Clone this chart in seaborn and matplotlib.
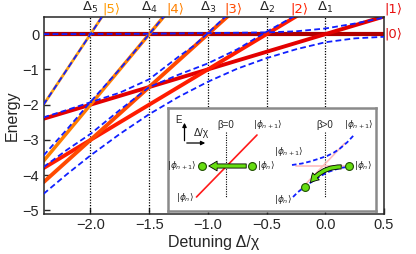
import seaborn as sns
import matplotlib.pyplot as plt
from matplotlib.patches import FancyArrowPatch

sns.set_style("ticks")
plt.rcParams['font.family'] = ['Liberation Sans', 'DejaVu Sans']
plt.rcParams['mathtext.fontset'] = 'dejavusans'

# bare levels |n>, end points read at the left / right edge
bare_x = [-2.4, 0.5]
bare_e0 = [0.0, 0.0]
bare_e1 = [-2.4, 0.5]
bare_e2 = [-3.8, 2.0]
bare_e3 = [-4.2, 4.5]
bare_e4 = [-3.6, 8.0]
bare_e5 = [-2.0, 12.5]
bare_colors = ['#b00000', '#e30000', '#ff1c00', '#ff4a00', '#ff7c00', '#ffa010']
bare_widths = [3.0, 2.8, 2.8, 2.8, 2.5, 2.0]

# dressed levels (blue dashed)
top_x = [-2.4, -1.5, -1.0, -0.75, -0.5, -0.25, 0.0, 0.25, 0.5]
top_y = [0.0, 0.01, 0.03, 0.04, 0.05, 0.08, 0.16, 0.30, 0.47]
d5_x = [-2.4, -1.9]
d5_y = [-2.0, 0.5]
d4_x = [-2.4, -2.2, -2.0, -1.75, -1.5, -1.375]
d4_y = [-3.44, -2.70, -1.92, -0.99, 0.0, 0.5]
d13_x = [-2.4, -2.2, -2.0, -1.75, -1.5, -1.25, -1.12, -1.0, -0.85]
d13_y = [-2.36, -2.15, -1.93, -1.66, -1.28, -0.64, -0.33, 0.03, 0.5]
mid_x = [-2.4, -2.2, -2.0, -1.75, -1.5, -1.25, -1.0, -0.75, -0.5, -0.27]
mid_y = [-3.77, -3.28, -2.83, -2.15, -1.5, -1.15, -0.83, -0.43, 0.07, 0.5]
low_x = [-2.4, -2.2, -2.0, -1.75, -1.5, -1.25, -1.0, -0.75, -0.5, -0.25, 0.0, 0.25, 0.5]
low_y = [-4.53, -3.97, -3.44, -2.83, -2.27, -1.78, -1.35, -0.98, -0.68, -0.43, -0.23, -0.12, -0.075]

resonances = [-2.0, -1.5, -1.0, -0.5, 0.0]
res_labels = [r'$\Delta_5$', r'$\Delta_4$', r'$\Delta_3$', r'$\Delta_2$', r'$\Delta_1$']
ket_x = [-1.82, -1.28, -0.78, -0.22, 0.58]
ket_labels = ['|5\u27e9', '|4\u27e9', '|3\u27e9', '|2\u27e9', '|1\u27e9']
ket_colors = ['#ff9a00', '#ff8000', '#ff4a00', '#ff2000', '#e81010']
ket_font = ['DejaVu Sans']

blue = '#1020ff'
dash = (0, (3.2, 1.8))

fig = plt.figure(figsize=(4.16, 2.54), dpi=100)
ax = fig.add_axes([0.1046, 0.1575, 0.8185, 0.7775])

for xr in resonances:
    ax.axvline(xr, color='k', ls=(0, (1, 1.2)), lw=0.9, zorder=1)

for ys, c, w in zip([bare_e0, bare_e1, bare_e2, bare_e3, bare_e4, bare_e5],
                    bare_colors, bare_widths):
    sns.lineplot(x=bare_x, y=ys, ax=ax, color=c, lw=w, estimator=None, zorder=2)

for xs, ys in [(top_x, top_y), (d5_x, d5_y), (d4_x, d4_y), (d13_x, d13_y),
               (mid_x, mid_y), (low_x, low_y)]:
    sns.lineplot(x=xs, y=ys, ax=ax, color=blue, lw=1.3, ls=dash,
                 estimator=None, zorder=3)

ax.set_xlim(-2.4, 0.5)
ax.set_ylim(-5.1, 0.5)
ax.set_xticks([-2.0, -1.5, -1.0, -0.5, 0.0, 0.5])
ax.set_xticklabels(['\u22122.0', '\u22121.5', '\u22121.0', '\u22120.5', '0.0', '0.5'])
ax.set_yticks([0, -1, -2, -3, -4, -5])
ax.set_yticklabels(['0', '\u22121', '\u22122', '\u22123', '\u22124', '\u22125'])
ax.tick_params(direction='in', length=4, width=1, labelsize=10.5, pad=3)
for s in ax.spines.values():
    s.set_linewidth(1.1)
ax.set_xlabel('Detuning \u0394/\u03c7', fontsize=11.5, labelpad=2)
ax.set_ylabel('Energy', fontsize=11.5, labelpad=2)

tr = ax.get_xaxis_transform()
for xr, lab in zip(resonances, res_labels):
    ax.text(xr, 1.008, lab, transform=tr, ha='center', va='bottom', fontsize=9.5)
for xk, lab, c in zip(ket_x, ket_labels, ket_colors):
    ax.text(xk, 1.004, lab, transform=tr, ha='center', va='bottom', fontsize=9.5,
            color=c, family=ket_font, clip_on=False)
ax.text(0.58, 0.0, '|0\u27e9', ha='center', va='center', fontsize=9.5,
        color='#e01010', family=ket_font, clip_on=False)

# inset sketch (coordinates in inset pixels, y downwards)
ins = fig.add_axes([168 / 416, 1 - 211 / 254, 208 / 416, 103 / 254], zorder=5)
ins.set_facecolor('white')
ins.set_xlim(0, 208)
ins.set_ylim(103, 0)
ins.set_xticks([])
ins.set_yticks([])
for s in ins.spines.values():
    s.set_color('#8a8a8a')
    s.set_linewidth(1.8)

sk_vline_x = [58, 157]
sk_vline_y = [24, 90]
sk_red_x = [28.5, 89]
sk_red_y = [89, 27]
sk_pink1_x = [132, 177]
sk_pink1_y = [82, 35]
sk_pink2_x = [128, 182]
sk_pink2_y = [58, 58]
sk_up_x = [124, 134, 142, 150, 159, 166, 172, 179, 186]
sk_up_y = [57, 55.5, 53.5, 51, 48, 44.5, 40.5, 34.5, 27]
sk_lo_x = [125, 130, 134, 137, 142, 150, 160, 172, 187]
sk_lo_y = [89, 84, 81, 79, 75, 69.5, 64, 60, 58]
sk_dots_x = [34, 84, 181, 137]
sk_dots_y = [58, 58, 58, 79]

for xv in sk_vline_x:
    ins.plot([xv, xv], sk_vline_y, color='k', ls=(0, (1, 1.2)), lw=0.8)
sns.lineplot(x=sk_red_x, y=sk_red_y, ax=ins, color='#ff1a1a', lw=1.2, estimator=None)
sns.lineplot(x=sk_pink1_x, y=sk_pink1_y, ax=ins, color='#ffbcbc', lw=1.2, estimator=None)
sns.lineplot(x=sk_pink2_x, y=sk_pink2_y, ax=ins, color='#ffbcbc', lw=1.2, estimator=None)
sns.lineplot(x=sk_up_x, y=sk_up_y, ax=ins, color=blue, lw=1.3, ls=(0, (2.5, 1.5)),
             estimator=None)
sns.lineplot(x=sk_lo_x, y=sk_lo_y, ax=ins, color=blue, lw=1.3, ls=(0, (2.5, 1.5)),
             estimator=None)

green = '#66dd11'
ins.add_patch(FancyArrowPatch((81, 58), (38, 58), arrowstyle='simple,head_width=7,head_length=6,tail_width=3',
                              mutation_scale=1, fc=green, ec='k', lw=0.6, zorder=4))
ins.add_patch(FancyArrowPatch((176, 59), (141, 77), connectionstyle='arc3,rad=0.3',
                              arrowstyle='simple,head_width=7,head_length=6,tail_width=3',
                              mutation_scale=1, fc=green, ec='k', lw=0.6, zorder=4))
sns.scatterplot(x=sk_dots_x, y=sk_dots_y, ax=ins, s=32, color=green,
                edgecolor='#205000', linewidth=0.8, zorder=6)

# small axes
ins.annotate('', xy=(16.5, 12), xytext=(16.5, 35.5),
             arrowprops=dict(arrowstyle='-|>', lw=0.9, color='k', mutation_scale=6))
ins.annotate('', xy=(40, 35), xytext=(16, 35),
             arrowprops=dict(arrowstyle='-|>', lw=0.9, color='k', mutation_scale=6))
ins.text(11, 12, 'E', fontsize=7, ha='center', va='center')
ins.text(33, 25, '\u0394/\u03c7', fontsize=7.5, ha='center', va='center')

ins.text(58, 17, '\u03b2=0', fontsize=7, ha='center', va='center')
ins.text(157, 17, '\u03b2>0', fontsize=7, ha='center', va='center')
ket_small = dict(fontsize=6.5, va='center')
ins.text(100, 17, r'$|\phi_{n+1}\rangle$', ha='center', **ket_small)
ins.text(191, 17, r'$|\phi_{n+1}\rangle$', ha='center', **ket_small)
ins.text(29, 58, r'$|\phi_{n+1}\rangle$', ha='right', **ket_small)
ins.text(89, 58, r'$|\phi_n\rangle$', ha='left', **ket_small)
ins.text(26, 90, r'$|\phi_n\rangle$', ha='right', **ket_small)
ins.text(121, 44, r'$|\phi_{n+1}\rangle$', ha='center', **ket_small)
ins.text(186, 58, r'$|\phi_n\rangle$', ha='left', **ket_small)
ins.text(124, 92, r'$|\phi_n\rangle$', ha='right', **ket_small)

fig.savefig('out.png', dpi=100)
